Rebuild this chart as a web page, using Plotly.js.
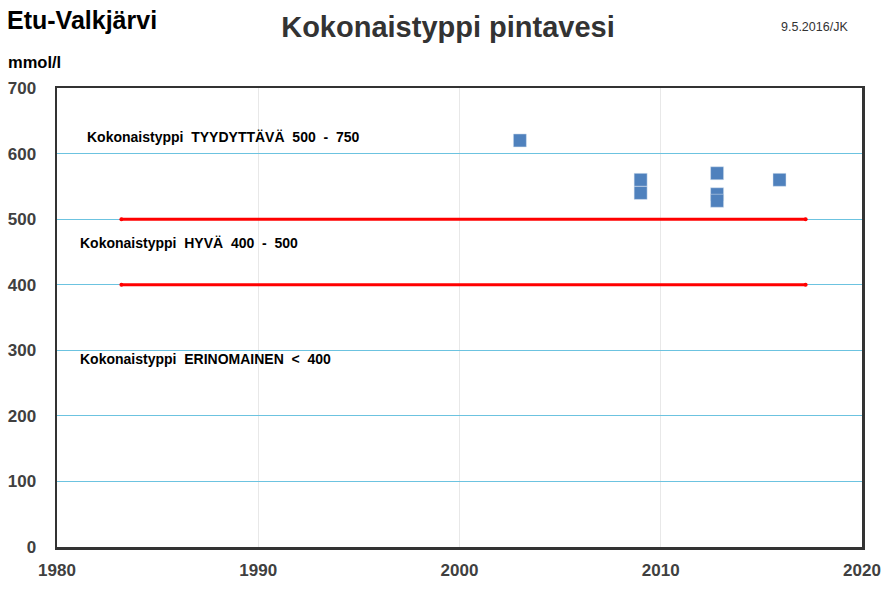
<!DOCTYPE html>
<html><head><meta charset="utf-8">
<script src="https://cdn.plot.ly/plotly-3.0.1.min.js"></script>
<style>body{margin:0;padding:0;background:#fff}#chart{width:896px;height:591px}</style>
</head><body><div id="chart"></div>
<script>
const years = [2003, 2009, 2009, 2012.8, 2012.8, 2012.8, 2015.9];
const values = [620, 560, 540, 570, 538, 528, 560];
const limitX = [1983.2, 2017.2];
const goodLimit = [500, 500];
const excellentLimit = [400, 400];
const classLabels = ["Kokonaistyppi TYYDYTTÄVÄ 500 - 750", "Kokonaistyppi HYVÄ 400 - 500", "Kokonaistyppi ERINOMAINEN < 400"];
const classLabelX = [1981.4, 1981.05, 1981.05];
const classLabelY = [625, 464, 286];
const xTicks = [1980, 1990, 2000, 2010, 2020];
const yTicks = [0, 100, 200, 300, 400, 500, 600, 700];

const font = "Liberation Sans, Arial, sans-serif";
const traces = [
  {x: limitX, y: goodLimit, mode: 'lines+markers', line: {color: '#ff0000', width: 3}, marker: {size: 4, color: '#ff0000'}, hoverinfo: 'skip'},
  {x: limitX, y: excellentLimit, mode: 'lines+markers', line: {color: '#ff0000', width: 3}, marker: {size: 4, color: '#ff0000'}, hoverinfo: 'skip'},
  {x: years, y: values, mode: 'markers', marker: {symbol: 'square', size: 13, color: '#4f81bd', line: {color: '#dbe5f1', width: 0.5}}}
];
const annotations = classLabels.map((t, i) => ({
  x: classLabelX[i], y: classLabelY[i], xref: 'x', yref: 'y', text: '<b>' + t.replace(/ /g, '  ') + '</b>', showarrow: false,
  xanchor: 'left', yanchor: 'middle', font: {family: font, size: 14, color: '#000'}
}));
annotations.push(
  {xref: 'paper', yref: 'paper', x: -0.064, y: 1.148, xanchor: 'left', yanchor: 'middle', text: '<b>Etu-Valkjärvi</b>', showarrow: false, font: {family: font, size: 25, color: '#000'}},
  {xref: 'paper', yref: 'paper', x: -0.063, y: 1.057, xanchor: 'left', yanchor: 'middle', text: '<b>mmol/l</b>', showarrow: false, font: {family: font, size: 16.5, color: '#000'}},
  {xref: 'paper', yref: 'paper', x: 0.985, y: 1.133, xanchor: 'right', yanchor: 'middle', text: '9.5.2016/JK', showarrow: false, font: {family: font, size: 12.5, color: '#333'}}
);

const layout = {
  width: 896, height: 591,
  margin: {l: 57, r: 34, t: 88, b: 44},
  paper_bgcolor: '#fff', plot_bgcolor: '#fff',
  showlegend: false,
  title: {text: '<b>Kokonaistyppi pintavesi</b>', x: 0.5, xanchor: 'center', y: 0.954, yanchor: 'middle', font: {family: font, size: 29, color: '#333'}},
  xaxis: {range: [1980, 2020], tickvals: xTicks, ticktext: xTicks.map(v => '<b>' + v + '</b>'), showgrid: true, gridcolor: '#e8e8e8', gridwidth: 1,
    zeroline: false, showline: true, linecolor: '#333', linewidth: 2.5, mirror: true, ticks: '',
    tickfont: {family: font, size: 17, color: '#404040'}, ticklabelstandoff: 6},
  yaxis: {range: [0, 700], tickvals: yTicks, ticktext: yTicks.map(v => '<b>' + v + '</b>'), showgrid: true, gridcolor: '#6cc3e0', gridwidth: 1,
    zeroline: false, showline: true, linecolor: '#333', linewidth: 2.5, mirror: true, ticks: '',
    tickfont: {family: font, size: 17, color: '#404040'}, ticklabelstandoff: 15},
  annotations: annotations
};
Plotly.newPlot('chart', traces, layout, {displayModeBar: false, staticPlot: true});
</script></body></html>
